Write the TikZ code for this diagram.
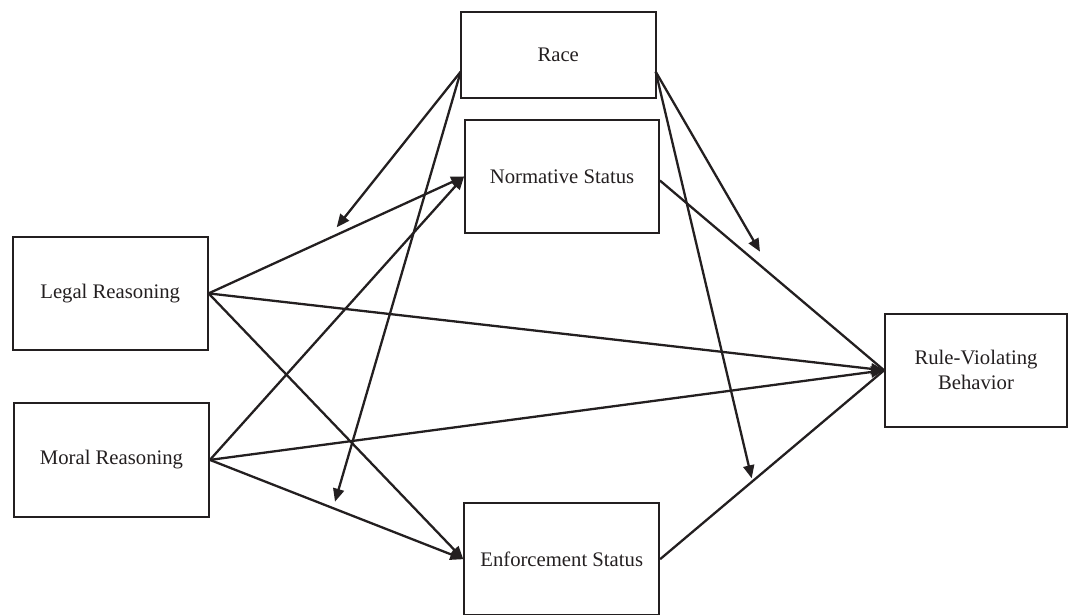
\documentclass[tikz,border=0pt]{standalone}
\usepackage{fontspec}
\setmainfont{Liberation Serif}
\usetikzlibrary{arrows.meta}
\definecolor{ink}{RGB}{35,31,32}
\begin{document}
\begin{tikzpicture}[x=1pt,y=-1pt,
  box/.style={draw=ink,line width=1.8pt,rectangle,inner sep=0pt,align=center,
    text=ink,font=\fontsize{20.7}{25}\selectfont},
  arr/.style={draw=ink,line width=2.3pt,-{Triangle[length=13pt,width=11pt]}},
  ln/.style={draw=ink,line width=2.3pt}]
\useasboundingbox (0,0) rectangle (1069,615);
\node[box,minimum width=195pt,minimum height=86pt] (race) at (558.2,54.9) {Race};
\node[box,minimum width=194pt,minimum height=113pt] (norm) at (562,176.5) {Normative Status};
\node[box,minimum width=195pt,minimum height=113pt] (legal) at (110.2,293.4) {Legal Reasoning};
\node[box,minimum width=195pt,minimum height=114pt] (moral) at (111.5,459.9) {Moral Reasoning};
\node[box,minimum width=195pt,minimum height=112pt] (enf) at (561.7,559.2) {Enforcement Status};
\node[box,minimum width=182pt,minimum height=113pt] (rule) at (976,370.3) {Rule-Violating\\Behavior};
% moderation start points and free ends
\coordinate (rl) at (460.7,71.7);
\coordinate (rr) at (655.7,71.7);
\coordinate (m1) at (336.7,227.3);
\coordinate (m2) at (335,501.7);
\coordinate (m3) at (760,251.7);
\coordinate (m4) at (751.7,478.3);
% direct paths
\draw[arr] (legal.east) -- (norm.west);
\draw[arr] (legal.east) -- (enf.west);
\draw[arr] (legal.east) -- (rule.west);
\draw[arr] (moral.east) -- (norm.west);
\draw[arr] (moral.east) -- (enf.west);
\draw[arr] (moral.east) -- (rule.west);
\draw[ln] ([yshift=-4pt]norm.east) -- (rule.west);
\draw[ln] (enf.east) -- (rule.west);
% moderation arrows from Race
\draw[arr] (rl) -- (m1);
\draw[arr] (rl) -- (m2);
\draw[arr] (rr) -- (m3);
\draw[arr] (rr) -- (m4);
\end{tikzpicture}
\end{document}
